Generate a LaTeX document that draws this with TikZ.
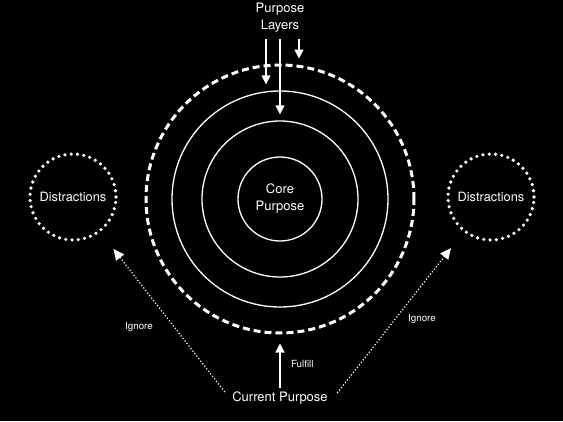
\documentclass[tikz,border=0pt]{standalone}
\usepackage{fontspec}
\setmainfont{TeX Gyre Heros}
\usetikzlibrary{arrows.meta,positioning}

\begin{document}
\begin{tikzpicture}[x=1pt,y=-1pt,
    every node/.style={text=white},
    ring/.style={draw=white, circle, line width=1.3pt, inner sep=0pt},
    distract/.style={draw=white, circle, minimum size=86pt, line width=3.6pt, line cap=round,
        dash pattern=on 0pt off 6.3pt, font=\fontsize{12.8}{15}\selectfont},
    bigtext/.style={font=\fontsize{13}{17}\selectfont, align=center},
    smalltext/.style={font=\fontsize{9.8}{11}\selectfont},
    arr/.style={-{Triangle[length=9pt,width=9pt]}, white, line width=1.4pt},
    ignorearr/.style={-{Triangle[length=11pt,width=10pt]}, white, line width=1.2pt, dotted}]
            \useasboundingbox (0,0) rectangle (563,421);
            \fill[black] (0,0) rectangle (563,421);

            % Purpose layers
            \node[ring, minimum size=84pt, bigtext] (core) at (280,199) {Core\\Purpose};
            \node[ring, minimum size=156pt] (layerA) at (core) {};
            \node[ring, minimum size=216pt] (layerB) at (core) {};
            \node[ring, minimum size=268pt, line width=3pt, dash pattern=on 7pt off 4pt] (bound) at (core) {};

            % Distractions
            \node[distract] (distL) at (73,197) {Distractions};
            \node[distract] (distR) at (491,197) {Distractions};

            % Labels
            \node[bigtext] (layers) at (280,18) {Purpose\\Layers};
            \node[bigtext] (current) at (280,398) {Current Purpose};

            % Arrows
            \draw[arr, shorten >=6pt] ([xshift=-14pt,yshift=-3pt]layers.south) -- ([xshift=-14pt]layers.south |- layerB.north);
            \draw[arr, shorten >=6pt] ([yshift=-3pt]layers.south) -- (layerA.north);
            \draw[arr, shorten >=5pt] ([xshift=19pt,yshift=-3pt]layers.south) -- ([xshift=19pt]layers.south |- bound.north);
            \draw[arr, shorten >=9pt] (current) -- (bound) node[pos=0.45, right=7pt, smalltext] {Fulfill};
            \draw[ignorearr, shorten >=21pt] ([xshift=-4pt,yshift=6pt]current.west) -- (distL);
            \draw[ignorearr, shorten >=20pt] ([xshift=6pt,yshift=5pt]current.east) -- (distR);
            \node[smalltext] (ignL) at (139,327) {Ignore};
            \node[smalltext] (ignR) at (422,319) {Ignore};
        \end{tikzpicture}
\end{document}
